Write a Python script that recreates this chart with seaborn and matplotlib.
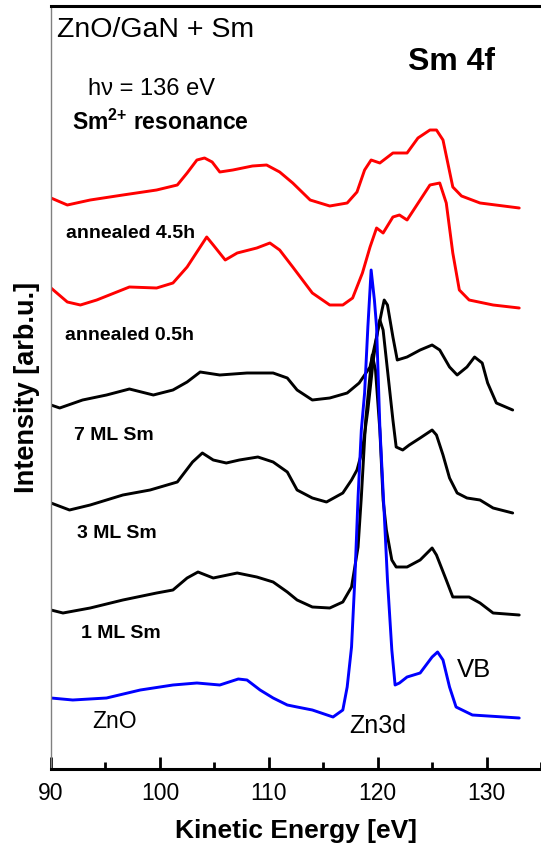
import matplotlib
matplotlib.use('Agg')
import matplotlib.pyplot as plt
import seaborn as sns
from matplotlib.ticker import MultipleLocator

# energies [eV] and intensities [arb.u.]

e_45 = [90.0, 91.5, 93.6, 96.6, 99.7, 101.6, 102.5, 103.4, 104.1, 104.8, 105.5,
        106.7, 108.5, 109.8, 111.0, 112.2, 113.8, 115.6, 117.2, 118.1, 118.8,
        119.4, 120.2, 121.4, 122.7, 123.7, 124.8, 125.4, 126.0, 126.9, 127.7,
        129.4, 133.0]
i_45 = [571, 564, 569, 574, 579, 584, 596, 609, 611, 607, 597, 599, 603, 604,
        597, 586, 569, 563, 566, 577, 599, 609, 606, 616, 616, 631, 639, 639,
        629, 582, 573, 566, 561]

e_05 = [90.0, 91.5, 92.7, 94.2, 97.2, 99.7, 101.2, 102.5, 103.7, 104.3, 104.9,
        106.0, 107.1, 108.9, 110.1, 111.0, 112.2, 114.0, 115.6, 116.8, 117.7,
        118.6, 119.3, 119.9, 120.5, 121.4, 122.0, 122.7, 123.9, 124.8, 125.7,
        126.3, 126.9, 127.5, 128.4, 130.6, 133.0]
i_05 = [481, 467, 464, 469, 482, 481, 486, 502, 522, 532, 524, 509, 516, 521,
        526, 519, 502, 476, 464, 464, 471, 496, 522, 541, 536, 552, 554, 549,
        569, 584, 586, 566, 516, 479, 469, 464, 461]

e_7ml = [90.0, 90.8, 92.9, 95.1, 97.2, 99.4, 101.2, 102.5, 103.7, 105.5, 108.0,
         110.4, 111.7, 112.6, 114.0, 115.6, 117.2, 118.3, 119.3, 119.9, 120.4,
         120.6, 120.9, 121.4, 121.8, 122.7, 123.9, 125.0, 125.7, 126.6, 127.3,
         128.2, 128.9, 129.6, 130.1, 130.9, 132.4]
i_7ml = [364, 361, 369, 374, 380, 374, 379, 387, 397, 394, 396, 396, 391, 379,
         369, 371, 376, 386, 402, 432, 459, 469, 464, 432, 409, 412, 419, 424,
         419, 402, 394, 402, 412, 406, 386, 366, 359]

e_3ml = [90.0, 91.7, 93.6, 96.6, 99.1, 101.6, 103.0, 103.9, 104.9, 106.1, 107.3,
         109.0, 110.4, 111.7, 112.6, 114.0, 115.3, 116.8, 117.6, 118.1, 118.6,
         119.1, 119.6, 120.0, 120.2, 120.5, 120.9, 121.4, 121.7, 122.3, 122.9,
         123.9, 125.0, 125.4, 126.0, 126.6, 127.3, 128.2, 129.4, 130.6, 132.4]
i_3ml = [266, 259, 264, 274, 279, 287, 307, 316, 309, 306, 309, 312, 307, 297,
         279, 271, 267, 276, 289, 299, 319, 359, 409, 439, 449, 439, 399, 349,
         322, 319, 324, 331, 339, 334, 314, 291, 276, 271, 269, 261, 256]

e_1ml = [90.0, 91.1, 93.6, 96.6, 99.7, 101.2, 102.5, 103.5, 104.9, 107.1, 108.9,
         110.4, 111.7, 112.6, 114.0, 115.6, 116.8, 117.6, 118.2, 118.5, 118.9,
         119.3, 119.5, 119.8, 120.2, 120.5, 120.8, 121.3, 121.7, 122.7, 123.9,
         125.0, 125.4, 126.3, 126.9, 128.4, 129.4, 130.6, 133.0]
i_1ml = [159, 156, 161, 169, 176, 179, 191, 197, 191, 196, 192, 187, 177, 169,
         162, 161, 167, 182, 222, 272, 349, 394, 414, 399, 339, 269, 239, 209,
         202, 202, 209, 221, 214, 189, 172, 172, 166, 156, 154]

e_zno = [90.0, 92.0, 95.1, 98.2, 101.2, 103.4, 105.5, 107.2, 108.0, 109.2, 110.4,
         111.7, 112.6, 114.0, 115.9, 116.8, 117.2, 117.6, 117.9, 118.2, 118.5,
         118.8, 119.1, 119.4, 119.7, 119.9, 120.2, 120.6, 120.9, 121.3, 121.6,
         122.0, 122.7, 123.9, 125.0, 125.5, 126.0, 126.6, 127.2, 128.7, 133.0]
i_zno = [71, 69, 71, 79, 84, 86, 84, 90, 89, 79, 71, 64, 62, 59, 52, 59, 82, 122,
         189, 272, 339, 376, 442, 499, 469, 442, 342, 256, 189, 119, 84, 86, 92,
         96, 112, 117, 109, 82, 62, 54, 51]

sns.set_style('white')
plt.rcParams['font.family'] = ['Liberation Sans', 'DejaVu Sans']
plt.rcParams['mathtext.fontset'] = 'custom'
plt.rcParams['mathtext.rm'] = 'Liberation Sans'
plt.rcParams['mathtext.bf'] = 'Liberation Sans:bold'
plt.rcParams['text.color'] = 'black'
plt.rcParams['axes.labelcolor'] = 'black'
plt.rcParams['xtick.color'] = 'black'

fig = plt.figure(figsize=(5.41, 8.52), dpi=100)
ax = fig.add_axes([51/541, 83/852, 490/541, 763/852])

lw = 2.1
sns.lineplot(x=e_45, y=i_45, color='#ff0000', lw=lw, ax=ax)
sns.lineplot(x=e_05, y=i_05, color='#ff0000', lw=lw, ax=ax)
sns.lineplot(x=e_7ml, y=i_7ml, color='black', lw=lw, ax=ax)
sns.lineplot(x=e_3ml, y=i_3ml, color='black', lw=lw, ax=ax)
sns.lineplot(x=e_1ml, y=i_1ml, color='black', lw=lw, ax=ax)
sns.lineplot(x=e_zno, y=i_zno, color='#0000ff', lw=lw, ax=ax)

ax.set_xlim(90, 135)
ax.set_ylim(0, 763)
ax.xaxis.set_major_locator(MultipleLocator(10))
ax.xaxis.set_minor_locator(MultipleLocator(5))
ax.tick_params(axis='x', which='major', direction='in', length=9, width=2,
               labelsize=16.5, pad=9, bottom=True)
ax.tick_params(axis='x', which='minor', direction='in', length=5, width=2, bottom=True)
ax.set_yticks([])

ax.spines['right'].set_visible(False)
ax.spines['left'].set_color('#808080')
ax.spines['left'].set_linewidth(1)
ax.spines['top'].set_color('black')
ax.spines['top'].set_linewidth(2.2)
ax.spines['bottom'].set_color('black')
ax.spines['bottom'].set_linewidth(2.2)

ax.set_xlabel('Kinetic Energy [eV]', fontsize=19, fontweight='bold')
ax.xaxis.set_label_coords(0.5, -0.065)
ax.set_ylabel('Intensity [arb.u.]', fontsize=19.5, fontweight='bold')
ax.yaxis.set_label_coords(-0.022, 0.5)

ax.text(90.55, 739, 'ZnO/GaN + Sm', fontsize=20.5, va='center')
ax.text(122.75, 707, 'Sm 4f', fontsize=23, fontweight='bold', va='center')
ax.text(93.4, 680, 'hν = 136 eV', fontsize=17, va='center')
ax.text(91.9, 647, r'Sm$^{\mathbf{2{+}}}$ resonance', fontsize=16.5, fontweight='bold', va='center')

ax.text(91.4, 536, 'annealed 4.5h', fontsize=14, fontweight='bold', va='center')
ax.text(91.3, 434, 'annealed 0.5h', fontsize=14, fontweight='bold', va='center')
ax.text(92.1, 334, '7 ML Sm', fontsize=14, fontweight='bold', va='center')
ax.text(92.4, 236, '3 ML Sm', fontsize=14, fontweight='bold', va='center')
ax.text(92.8, 136, '1 ML Sm', fontsize=14, fontweight='bold', va='center')

ax.text(93.8, 47, 'ZnO', fontsize=16.5, va='center')
ax.text(117.4, 43, 'Zn3d', fontsize=18, va='center')
ax.text(127.3, 99, 'VB', fontsize=18.5, va='center')

plt.savefig('out.png', dpi=100)
